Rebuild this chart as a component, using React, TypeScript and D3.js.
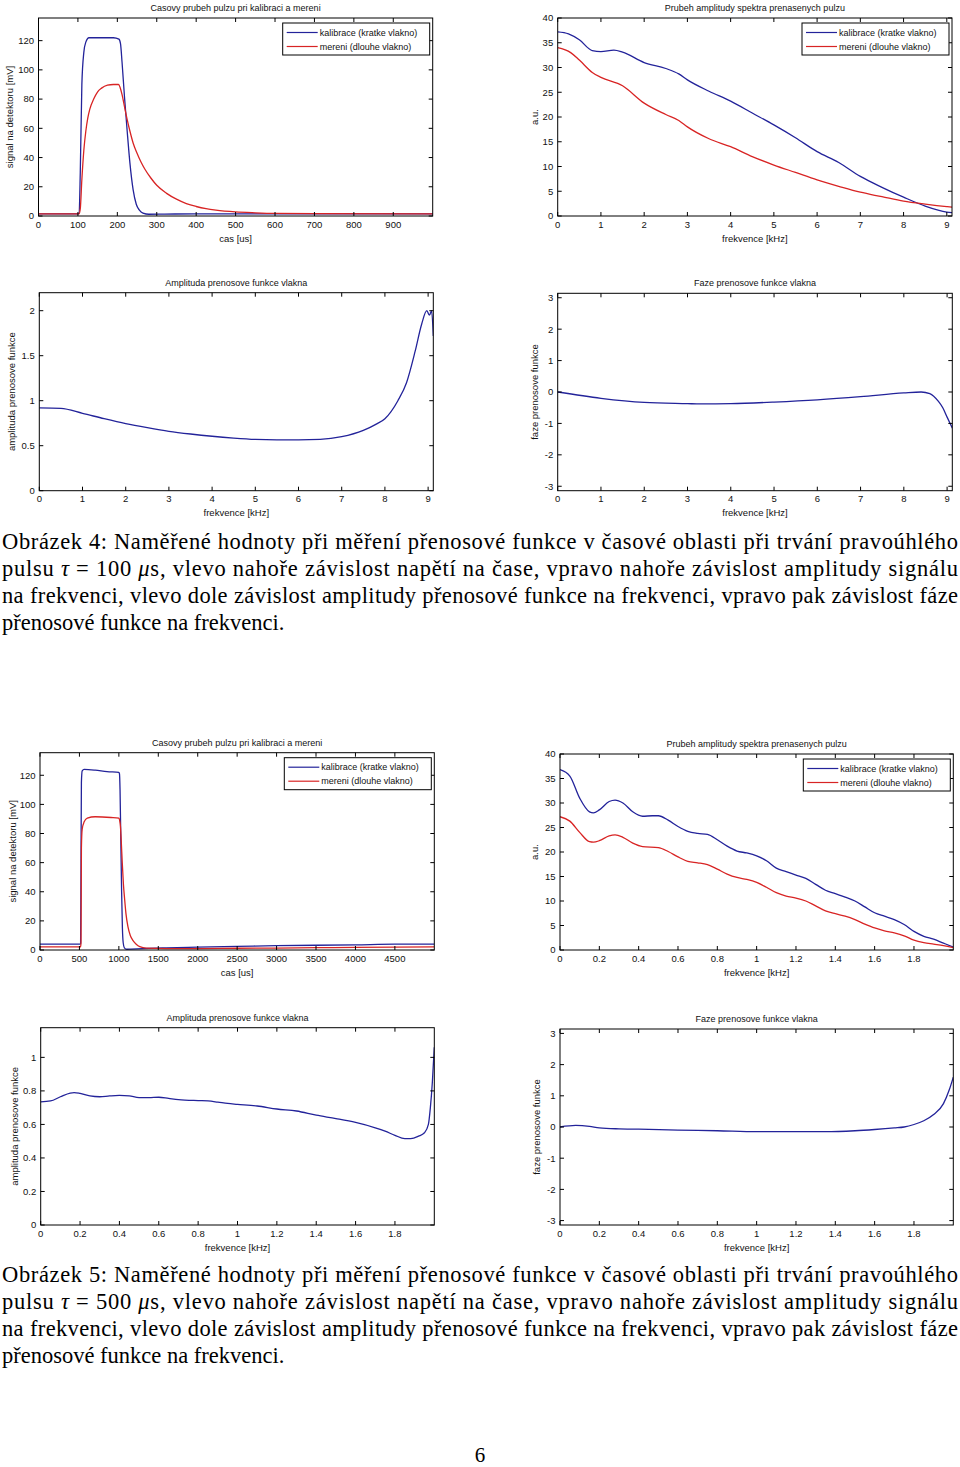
import React from 'react';
import * as d3 from 'd3';

type Pt = [number, number];

// ---------- Figure 4 (tau = 100 us) ----------
const f4PulseCal: Pt[] = [[0,1.5],[100,1.5],[103,2],[106,30],[110,90],[115,112],[120,119],[128,122],[160,122],[190,122],[204,121],[208,118],[212,105],[218,82],[225,58],[232,36],[240,18],[248,8],[256,4],[265,2],[280,1.2],[320,1.3],[400,1.5],[560,1.5],[1000,1.5]];
const f4PulseMeas: Pt[] = [[0,1.5],[103,1.5],[106,5],[110,25],[115,45],[120,58],[125,67],[130,73],[140,80],[150,85],[160,87.5],[175,89.5],[190,90],[203,90],[207,88],[212,83],[218,75],[225,66],[232,58],[240,50],[250,43],[260,37],[270,32],[285,26],[300,21],[325,15.5],[350,11.5],[375,8.5],[400,6.5],[425,5],[450,4],[500,2.8],[550,2.2],[600,1.8],[700,1.6],[1000,1.5]];
const f4SpecCal: Pt[] = [[0,37.2],[0.25,36.8],[0.5,35.6],[0.8,33.4],[1.0,33.2],[1.3,33.5],[1.5,33.1],[2.0,31.0],[2.5,29.8],[2.8,28.7],[3.0,27.5],[3.5,25.2],[4.0,23.2],[4.5,20.8],[5.0,18.4],[5.5,15.8],[6.0,13.0],[6.5,10.8],[7.0,8.0],[7.5,5.8],[8.0,3.8],[8.5,2.0],[9.0,0.8],[9.12,0.7]];
const f4SpecMeas: Pt[] = [[0,34.0],[0.3,33.0],[0.5,31.5],[0.8,29.0],[1.0,28.0],[1.5,26.3],[2.0,22.8],[2.5,20.5],[2.8,19.3],[3.0,18.0],[3.5,15.6],[4.0,14.0],[4.5,12.0],[5.0,10.3],[5.5,8.8],[6.0,7.3],[6.5,6.0],[7.0,4.8],[7.5,3.9],[8.0,3.0],[8.5,2.4],[9.0,1.9],[9.12,1.8]];
const f4TransAmp: Pt[] = [[0,0.92],[0.5,0.915],[1,0.86],[1.5,0.80],[2,0.745],[2.5,0.70],[3,0.66],[3.5,0.63],[4,0.605],[4.5,0.585],[5,0.57],[5.5,0.565],[6,0.565],[6.5,0.57],[7,0.60],[7.5,0.67],[7.8,0.74],[8.0,0.80],[8.3,1.0],[8.5,1.2],[8.7,1.55],[8.85,1.85],[8.97,2.0],[9.03,1.95],[9.08,2.0],[9.12,1.72]];
const f4TransPhase: Pt[] = [[0,0],[1,-0.2],[2,-0.33],[3,-0.37],[3.3,-0.38],[4,-0.37],[5,-0.32],[6,-0.25],[7,-0.15],[8,-0.03],[8.4,0.0],[8.6,-0.05],[8.8,-0.3],[8.9,-0.5],[9.0,-0.8],[9.12,-1.15]];

// ---------- Figure 5 (tau = 500 us) ----------
const f5PulseCal: Pt[] = [[0,4],[510,4],[515,4.5],[520,60],[525,115],[535,123],[560,124],[700,123.5],[850,122.5],[1000,122],[1008,121],[1015,110],[1025,75],[1035,40],[1045,15],[1055,5],[1070,1.5],[1100,0.5],[1300,1],[1600,1.5],[2000,2],[2500,2.5],[3000,3],[4000,3.5],[4500,4],[5000,4]];
const f5PulseMeas: Pt[] = [[0,2.2],[515,2.2],[520,5],[525,70],[535,83],[560,88],[600,90.5],[700,91.5],[900,91],[1000,90.5],[1010,89],[1020,85],[1030,75],[1043,60],[1058,45],[1073,35],[1090,25],[1115,16],[1145,10],[1180,6.5],[1220,4],[1265,2.3],[1350,1.3],[1600,1],[2000,1],[2500,1.2],[3000,1.3],[3500,1.6],[4000,1.8],[5000,2.2]];
const f5SpecCal: Pt[] = [[0,36.8],[0.05,35.5],[0.1,31],[0.15,28.2],[0.17,28.0],[0.2,28.6],[0.25,30.3],[0.28,30.6],[0.32,30.0],[0.37,28.2],[0.42,27.3],[0.47,27.4],[0.5,27.4],[0.55,26.5],[0.6,25.2],[0.65,24.2],[0.7,23.8],[0.75,23.6],[0.8,22.5],[0.85,21.2],[0.9,20.2],[0.95,19.8],[1.0,19.2],[1.05,18.2],[1.1,16.7],[1.15,16.0],[1.2,15.3],[1.25,14.6],[1.3,13.4],[1.35,12.2],[1.4,11.5],[1.45,10.8],[1.5,10.0],[1.55,8.8],[1.6,7.6],[1.65,6.9],[1.7,6.2],[1.75,5.2],[1.8,3.8],[1.85,2.8],[1.9,2.2],[1.95,1.4],[2.0,0.6]];
const f5SpecMeas: Pt[] = [[0,27.2],[0.05,26.3],[0.1,24.0],[0.15,22.1],[0.17,22.0],[0.2,22.3],[0.25,23.3],[0.28,23.5],[0.32,23.0],[0.37,21.8],[0.42,21.1],[0.5,20.9],[0.55,20.1],[0.6,19.0],[0.65,18.1],[0.7,17.8],[0.75,17.4],[0.8,16.5],[0.85,15.5],[0.9,14.8],[0.95,14.4],[1.0,13.8],[1.05,12.8],[1.1,11.7],[1.15,11.0],[1.2,10.6],[1.25,10.0],[1.3,9.0],[1.35,8.0],[1.4,7.4],[1.45,6.9],[1.5,6.2],[1.55,5.3],[1.6,4.5],[1.65,3.9],[1.7,3.5],[1.75,2.9],[1.8,2.0],[1.85,1.5],[1.9,1.2],[1.95,0.9],[2.0,0.5]];
const f5TransAmp: Pt[] = [[0,0.735],[0.05,0.74],[0.1,0.765],[0.15,0.787],[0.17,0.79],[0.2,0.785],[0.25,0.77],[0.3,0.765],[0.35,0.77],[0.4,0.773],[0.45,0.77],[0.5,0.76],[0.55,0.76],[0.6,0.762],[0.65,0.755],[0.7,0.748],[0.8,0.742],[0.85,0.74],[0.9,0.733],[0.95,0.725],[1.0,0.72],[1.1,0.71],[1.2,0.692],[1.3,0.68],[1.4,0.655],[1.5,0.635],[1.6,0.612],[1.7,0.58],[1.75,0.56],[1.8,0.535],[1.85,0.515],[1.88,0.515],[1.92,0.53],[1.95,0.55],[1.97,0.6],[1.98,0.7],[1.99,0.85],[2.0,1.06]];
const f5TransPhase: Pt[] = [[0,0],[0.08,0.05],[0.15,0.02],[0.2,-0.03],[0.3,-0.06],[0.4,-0.07],[0.6,-0.1],[0.8,-0.12],[1.0,-0.15],[1.2,-0.15],[1.35,-0.15],[1.5,-0.12],[1.6,-0.08],[1.7,-0.03],[1.75,0.0],[1.8,0.08],[1.85,0.2],[1.9,0.4],[1.95,0.75],[1.98,1.2],[2.0,1.6]];

// ---------- ticks & labels ----------
const ticksPulse4 = [0,100,200,300,400,500,600,700,800,900];
const ticksPulse5 = [0,500,1000,1500,2000,2500,3000,3500,4000,4500];
const ticksMv = [0,20,40,60,80,100,120];
const ticksKhz9 = [0,1,2,3,4,5,6,7,8,9];
const ticksKhz2 = [0,0.2,0.4,0.6,0.8,1,1.2,1.4,1.6,1.8];
const ticksAu = [0,5,10,15,20,25,30,35,40];
const ticksAmp4 = [0,0.5,1,1.5,2];
const ticksAmp5 = [0,0.2,0.4,0.6,0.8,1];
const ticksPhase = [-3,-2,-1,0,1,2,3];

const legendLabels = ['kalibrace (kratke vlakno)', 'mereni (dlouhe vlakno)'];
const titlePulse = 'Casovy prubeh pulzu pri kalibraci a mereni';
const titleSpec = 'Prubeh amplitudy spektra prenasenych pulzu';
const titleAmp = 'Amplituda prenosove funkce vlakna';
const titlePhase = 'Faze prenosove funkce vlakna';

const BLUE = '#23239a';
const RED = '#d82424';
const SANS = "'Liberation Sans', Arial, Helvetica, sans-serif";
const SERIF = "'Liberation Serif', 'Times New Roman', serif";

interface PanelSpec {
  id: string;
  left: number; right: number; top: number; bottom: number;
  xDomain: [number, number]; yDomain: [number, number];
  xTicks: number[]; yTicks: number[];
  title: string; xLabel: string; yLabel: string; yLabelDx: number;
  series: { data: Pt[]; color: string }[];
  legend?: boolean;
}

const fmt = (v: number) => String(+v.toFixed(3));

function Panel({ s }: { s: PanelSpec }) {
  const x = d3.scaleLinear().domain(s.xDomain).range([s.left, s.right]);
  const y = d3.scaleLinear().domain(s.yDomain).range([s.bottom, s.top]);
  const line = d3.line<Pt>().x(d => x(d[0])).y(d => y(d[1])).curve(d3.curveMonotoneX);
  const tl = 4;
  const cx = (s.left + s.right) / 2;
  const cy = (s.top + s.bottom) / 2;
  const lx = s.right - 150;
  const ly = s.top + 5;
  return (
    <g fontFamily={SANS} fill="#111">
      <defs>
        <clipPath id={s.id}>
          <rect x={s.left} y={s.top} width={s.right - s.left} height={s.bottom - s.top} />
        </clipPath>
      </defs>
      <text x={cx} y={s.top - 7} fontSize={9} textAnchor="middle">{s.title}</text>
      <g clipPath={`url(#${s.id})`}>
        {s.series.map((se, i) => (
          <path key={i} d={line(se.data) || ''} fill="none" stroke={se.color} strokeWidth={1.3} />
        ))}
      </g>
      <rect x={s.left} y={s.top} width={s.right - s.left} height={s.bottom - s.top} fill="none" stroke="#000" strokeWidth={1} />
      {s.xTicks.map(t => (
        <g key={'x' + t}>
          <line x1={x(t)} x2={x(t)} y1={s.bottom} y2={s.bottom - tl} stroke="#000" />
          <line x1={x(t)} x2={x(t)} y1={s.top} y2={s.top + tl} stroke="#000" />
          <text x={x(t)} y={s.bottom + 11.5} fontSize={9.5} textAnchor="middle">{fmt(t)}</text>
        </g>
      ))}
      {s.yTicks.map(t => (
        <g key={'y' + t}>
          <line x1={s.left} x2={s.left + tl} y1={y(t)} y2={y(t)} stroke="#000" />
          <line x1={s.right} x2={s.right - tl} y1={y(t)} y2={y(t)} stroke="#000" />
          <text x={s.left - 4.5} y={y(t) + 3.4} fontSize={9.5} textAnchor="end">{fmt(t)}</text>
        </g>
      ))}
      <text x={cx} y={s.bottom + 25.5} fontSize={9.5} textAnchor="middle">{s.xLabel}</text>
      <text transform={`translate(${s.left + s.yLabelDx},${cy}) rotate(-90)`} fontSize={9.5} textAnchor="middle" dy={3.3}>{s.yLabel}</text>
      {s.legend && (
        <g>
          <rect x={lx} y={ly} width={147} height={32} fill="#fff" stroke="#000" strokeWidth={1} />
          {legendLabels.map((lab, i) => (
            <g key={lab}>
              <line x1={lx + 4} x2={lx + 35} y1={ly + 9.5 + i * 14} y2={ly + 9.5 + i * 14} stroke={s.series[i].color} strokeWidth={1.2} />
              <text x={lx + 37} y={ly + 12.5 + i * 14} fontSize={9}>{lab}</text>
            </g>
          ))}
        </g>
      )}
    </g>
  );
}

const PI = Math.PI;

const panels: PanelSpec[] = [
  { id: 'c1', left: 38.5, right: 432.7, top: 18, bottom: 216, xDomain: [0, 1000], yDomain: [0, 135.5], xTicks: ticksPulse4, yTicks: ticksMv, title: titlePulse, xLabel: 'cas [us]', yLabel: 'signal na detektoru [mV]', yLabelDx: -28.5, series: [{ data: f4PulseCal, color: BLUE }, { data: f4PulseMeas, color: RED }], legend: true },
  { id: 'c2', left: 557.7, right: 952, top: 18, bottom: 216, xDomain: [0, 9.12], yDomain: [0, 40], xTicks: ticksKhz9, yTicks: ticksAu, title: titleSpec, xLabel: 'frekvence [kHz]', yLabel: 'a.u.', yLabelDx: -22.7, series: [{ data: f4SpecCal, color: BLUE }, { data: f4SpecMeas, color: RED }], legend: true },
  { id: 'c3', left: 39.3, right: 433.3, top: 292.7, bottom: 490.7, xDomain: [0, 9.12], yDomain: [0, 2.2], xTicks: ticksKhz9, yTicks: ticksAmp4, title: titleAmp, xLabel: 'frekvence [kHz]', yLabel: 'amplituda prenosove funkce', yLabelDx: -27.6, series: [{ data: f4TransAmp, color: BLUE }] },
  { id: 'c4', left: 557.7, right: 952.3, top: 293.3, bottom: 490.7, xDomain: [0, 9.12], yDomain: [-PI, PI], xTicks: ticksKhz9, yTicks: ticksPhase, title: titlePhase, xLabel: 'frekvence [kHz]', yLabel: 'faze prenosove funkce', yLabelDx: -22.7, series: [{ data: f4TransPhase, color: BLUE }] },
  { id: 'c5', left: 40, right: 434.3, top: 752.7, bottom: 950, xDomain: [0, 5000], yDomain: [0, 135.5], xTicks: ticksPulse5, yTicks: ticksMv, title: titlePulse, xLabel: 'cas [us]', yLabel: 'signal na detektoru [mV]', yLabelDx: -27, series: [{ data: f5PulseCal, color: BLUE }, { data: f5PulseMeas, color: RED }], legend: true },
  { id: 'c6', left: 560, right: 953.3, top: 754, bottom: 950, xDomain: [0, 2], yDomain: [0, 40], xTicks: ticksKhz2, yTicks: ticksAu, title: titleSpec, xLabel: 'frekvence [kHz]', yLabel: 'a.u.', yLabelDx: -25, series: [{ data: f5SpecCal, color: BLUE }, { data: f5SpecMeas, color: RED }], legend: true },
  { id: 'c7', left: 40.7, right: 434.3, top: 1027.7, bottom: 1225, xDomain: [0, 2], yDomain: [0, 1.177], xTicks: ticksKhz2, yTicks: ticksAmp5, title: titleAmp, xLabel: 'frekvence [kHz]', yLabel: 'amplituda prenosove funkce', yLabelDx: -26.5, series: [{ data: f5TransAmp, color: BLUE }] },
  { id: 'c8', left: 560, right: 953.3, top: 1029, bottom: 1225, xDomain: [0, 2], yDomain: [-PI, PI], xTicks: ticksKhz2, yTicks: ticksPhase, title: titlePhase, xLabel: 'frekvence [kHz]', yLabel: 'faze prenosove funkce', yLabelDx: -23.3, series: [{ data: f5TransPhase, color: BLUE }] },
];

function Caption({ y0, tau, num }: { y0: number; tau: string; num: string }) {
  const fs = 22.5;
  const lh = 27;
  const W = 956;
  return (
    <g fontFamily={SERIF} fontSize={fs} fill="#000">
      <text x={2} y={y0} textLength={W} lengthAdjust="spacing">{`Obrázek ${num}: Naměřené hodnoty při měření přenosové funkce v časové oblasti při trvání pravoúhlého`}</text>
      <text x={2} y={y0 + lh} textLength={W} lengthAdjust="spacing">
        pulsu <tspan fontStyle="italic">τ</tspan> = {tau} <tspan fontStyle="italic">μ</tspan>s, vlevo nahoře závislost napětí na čase, vpravo nahoře závislost amplitudy signálu
      </text>
      <text x={2} y={y0 + 2 * lh} textLength={W} lengthAdjust="spacing">na frekvenci, vlevo dole závislost amplitudy přenosové funkce na frekvenci, vpravo pak závislost fáze</text>
      <text x={2} y={y0 + 3 * lh}>přenosové funkce na frekvenci.</text>
    </g>
  );
}

export default function App() {
  return (
    <svg width={960} height={1467} style={{ position: 'absolute', left: 0, top: 0, background: '#fff' }}>
      <rect x={0} y={0} width={960} height={1467} fill="#fff" />
      {panels.map(p => <Panel key={p.id} s={p} />)}
      <Caption y0={549} tau="100" num="4" />
      <Caption y0={1282} tau="500" num="5" />
      <text x={480} y={1462} fontFamily={SERIF} fontSize={21} textAnchor="middle">6</text>
    </svg>
  );
}
